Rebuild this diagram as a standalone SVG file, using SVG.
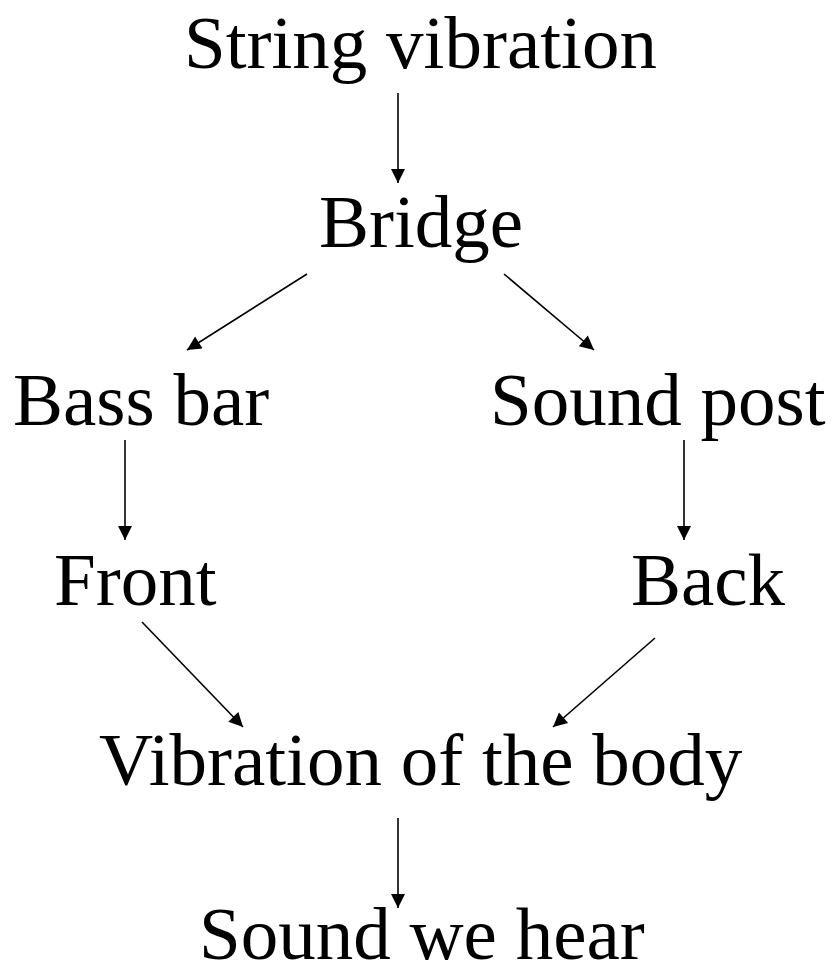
<svg xmlns="http://www.w3.org/2000/svg" width="834" height="966" viewBox="0 0 834 966">
<style>
text{font-family:"Liberation Serif","Times New Roman",serif;font-size:75px;fill:#000}
.c line{stroke:#000;stroke-width:1.6;fill:none}
</style>
<defs>
<marker id="ah" viewBox="0 0 10 10" refX="10" refY="5" markerUnits="userSpaceOnUse" markerWidth="18" markerHeight="14" orient="auto">
<path d="M0,0 L10,5 L0,10 Z" fill="#000"/>
</marker>
</defs>
<rect width="834" height="966" fill="#fff"/>
<g id="n1"><text x="184" y="68">String vibration</text></g>
<g id="n2"><text x="319" y="247">Bridge</text></g>
<g id="n3"><text x="13" y="425">Bass bar</text></g>
<g id="n4"><text x="490" y="425">Sound post</text></g>
<g id="n5"><text x="54" y="605">Front</text></g>
<g id="n6"><text x="631" y="605">Back</text></g>
<g id="n7"><text x="99" y="785">Vibration of the body</text></g>
<g id="n8"><text x="199" y="959">Sound we hear</text></g>
<g class="c" id="connectors">
<line x1="398" y1="93" x2="398" y2="183" marker-end="url(#ah)"/>
<line x1="307" y1="274" x2="187" y2="350" marker-end="url(#ah)"/>
<line x1="504" y1="274" x2="594" y2="350" marker-end="url(#ah)"/>
<line x1="125" y1="440" x2="125" y2="540" marker-end="url(#ah)"/>
<line x1="684" y1="440" x2="684" y2="540" marker-end="url(#ah)"/>
<line x1="142" y1="622" x2="243" y2="727" marker-end="url(#ah)"/>
<line x1="655" y1="638" x2="553" y2="727" marker-end="url(#ah)"/>
<line x1="398" y1="818" x2="398" y2="908" marker-end="url(#ah)"/>
</g>
</svg>
